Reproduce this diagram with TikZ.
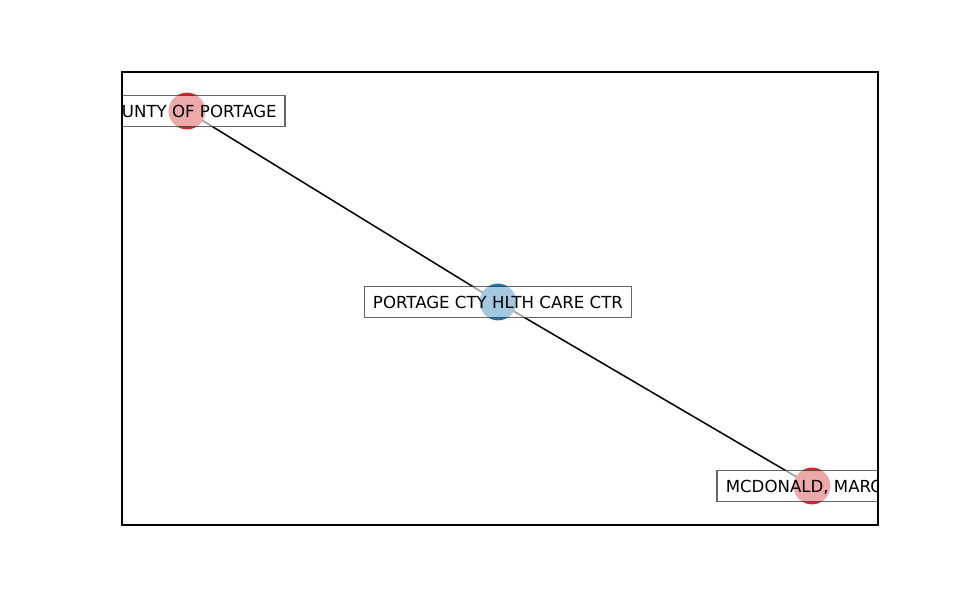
\documentclass[tikz,border=0pt]{standalone}
\usepackage{fontspec}
\setmainfont{DejaVu Sans}
\definecolor{nodered}{RGB}{214,39,40}
\definecolor{nodeblue}{RGB}{31,119,180}

\begin{document}
\begin{tikzpicture}[x=0.254mm,y=-0.254mm,
  vertex/.style={circle,inner sep=0pt,minimum size=26.6pt,fill=#1},
  tag/.style={rectangle,draw=black,fill=white,opacity=0.6,text opacity=1,
    line width=1.2pt,inner xsep=6.2pt,inner ysep=6.9pt,
    text height=8.8pt,text depth=0pt,font=\fontsize{12}{14}\selectfont},
  link/.style={black,line width=1.1pt}]
\useasboundingbox (0,0) rectangle (975,600);
\fill[white] (0,0) rectangle (975,600);
\coordinate (county) at (187,111);
\coordinate (hlth) at (498,302);
\coordinate (mcd) at (812,486);
\begin{scope}
\clip (122,72) rectangle (878,525);
% edges under the vertices
\draw[link] (county) -- (hlth);
\draw[link] (hlth) -- (mcd);
\node[vertex=nodered] (v-county) at (county) {};
\node[vertex=nodeblue] (v-hlth) at (hlth) {};
\node[vertex=nodered] (v-mcd) at (mcd) {};
% labels
\node[tag] (t-county) at (county) {COUNTY OF PORTAGE};
\node[tag] (t-hlth) at (hlth) {PORTAGE CTY HLTH CARE CTR};
\node[tag] (t-mcd) at (mcd) {MCDONALD, MARCIA};
\end{scope}
\draw[line width=0.85pt] (122,72) rectangle (878,525);
\end{tikzpicture}
\end{document}
